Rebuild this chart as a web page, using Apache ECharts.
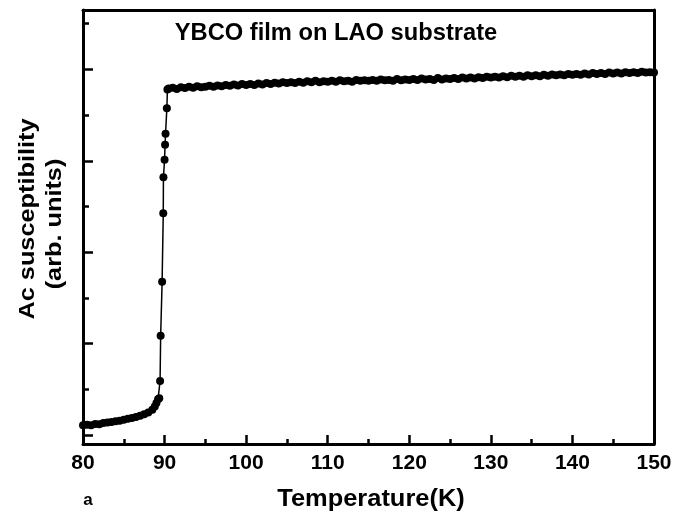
<!DOCTYPE html>
<html>
<head>
<meta charset="utf-8">
<script src="https://cdn.jsdelivr.net/npm/echarts@6/dist/echarts.min.js"></script>
<style>
html,body{margin:0;padding:0;background:#fff;}
#chart{width:690px;height:513px;}
</style>
</head>
<body>
<div id="chart"></div>
<script>
// ---- data (temperature in K, susceptibility in arbitrary units) ----
var lowTemps = [80,80.5,81,81.5,82,82.5,83,83.5,84,84.5,85,85.5,86,86.5,87,87.5,88,88.5,88.8,89.0,89.2];
var lowValues = [0.21,0.22,0.21,0.24,0.23,0.26,0.27,0.28,0.30,0.31,0.33,0.35,0.37,0.39,0.42,0.45,0.49,0.55,0.62,0.70,0.78];

var transTemps = [89.35,89.45,89.52,89.70,89.84,89.86,90.0,90.06,90.12,90.28,90.35];
var transValues = [0.80,1.18,2.17,3.35,4.85,5.64,6.02,6.35,6.59,7.15,7.56];

var plateauTemps = [
 90.5,91,91.5,92,92.5,93,93.5,94,94.5,95,
 95.5,96,96.5,97,97.5,98,98.5,99,99.5,100,
 100.5,101,101.5,102,102.5,103,103.5,104,104.5,105,
 105.5,106,106.5,107,107.5,108,108.5,109,109.5,110,
 110.5,111,111.5,112,112.5,113,113.5,114,114.5,115,
 115.5,116,116.5,117,117.5,118,118.5,119,119.5,120,
 120.5,121,121.5,122,122.5,123,123.5,124,124.5,125,
 125.5,126,126.5,127,127.5,128,128.5,129,129.5,130,
 130.5,131,131.5,132,132.5,133,133.5,134,134.5,135,
 135.5,136,136.5,137,137.5,138,138.5,139,139.5,140,
 140.5,141,141.5,142,142.5,143,143.5,144,144.5,145,
 145.5,146,146.5,147,147.5,148,148.5,149,149.5,150
];
var plateauValues = [
 7.58,7.60,7.57,7.61,7.59,7.62,7.60,7.63,7.61,7.62,
 7.64,7.62,7.65,7.63,7.66,7.64,7.67,7.65,7.68,7.66,
 7.68,7.66,7.69,7.67,7.70,7.68,7.71,7.69,7.72,7.70,
 7.72,7.70,7.73,7.71,7.74,7.72,7.75,7.72,7.74,7.73,
 7.75,7.73,7.76,7.74,7.75,7.73,7.77,7.75,7.76,7.75,
 7.77,7.75,7.78,7.76,7.77,7.75,7.79,7.76,7.78,7.77,
 7.79,7.77,7.80,7.78,7.79,7.77,7.81,7.78,7.80,7.79,
 7.81,7.79,7.82,7.80,7.82,7.80,7.83,7.81,7.84,7.82,
 7.84,7.82,7.85,7.83,7.86,7.84,7.86,7.84,7.87,7.85,
 7.87,7.85,7.88,7.86,7.89,7.87,7.89,7.87,7.90,7.88,
 7.90,7.88,7.91,7.89,7.92,7.90,7.92,7.90,7.93,7.91,
 7.93,7.91,7.94,7.92,7.94,7.92,7.95,7.93,7.94,7.93
];

var xTicks = [80,90,100,110,120,130,140,150];
var yMajorTicks = [0,2,4,6,8];
var yMinorTicks = [1,3,5,7,9];

var titleText = 'YBCO film on LAO substrate';
var xName = 'Temperature(K)';
var yName1 = 'Ac susceptibility';
var yName2 = '(arb. units)';
var panelLabel = 'a';

// ---- build ----
var temps = lowTemps.concat(transTemps, plateauTemps);
var vals = lowValues.concat(transValues, plateauValues);
var seriesData = temps.map(function(t, i){ return [t, vals[i]]; });

var FONT = '"Liberation Sans", Arial, sans-serif';
var chart = echarts.init(document.getElementById('chart'), null, {renderer:'canvas'});
var lineStyle = {color:'#000', width:3};

chart.setOption({
  animation:false,
  backgroundColor:'#fff',
  grid:{left:83, right:36, top:10, bottom:69, containLabel:false},
  xAxis:[{
    type:'value', min:80, max:150, interval:10, position:'bottom',
    axisLine:{show:true, onZero:false, lineStyle:lineStyle},
    axisTick:{show:true, inside:true, length:9, lineStyle:{color:'#000', width:2.5}},
    minorTick:{show:true, splitNumber:2, length:5, lineStyle:{color:'#000', width:2.5}},
    splitLine:{show:false},
    axisLabel:{show:true, margin:9, color:'#000', fontFamily:FONT, fontWeight:'bold', fontSize:21,
      customValues: xTicks}
  },{
    type:'value', min:80, max:150, position:'top',
    axisLine:{show:true, onZero:false, lineStyle:lineStyle},
    axisTick:{show:false}, axisLabel:{show:false}, splitLine:{show:false}
  }],
  yAxis:[{
    type:'value', min:-0.2, max:9.3, position:'left',
    axisLine:{show:true, onZero:false, lineStyle:lineStyle},
    axisTick:{show:true, inside:true, length:10, lineStyle:{color:'#000', width:2.5}, customValues:yMajorTicks},
    axisLabel:{show:false}, splitLine:{show:false}
  },{
    type:'value', min:-0.2, max:9.3, position:'left',
    axisLine:{show:false},
    axisTick:{show:true, inside:true, length:6, lineStyle:{color:'#000', width:2.5}, customValues:yMinorTicks},
    axisLabel:{show:false}, splitLine:{show:false}
  },{
    type:'value', min:-0.2, max:9.3, position:'right',
    axisLine:{show:true, onZero:false, lineStyle:lineStyle},
    axisTick:{show:false}, axisLabel:{show:false}, splitLine:{show:false}
  }],
  series:[{
    type:'line', xAxisIndex:0, yAxisIndex:0,
    data:seriesData,
    symbol:'circle', symbolSize:8, showSymbol:true, showAllSymbol:true,
    lineStyle:{color:'#000', width:1.5},
    itemStyle:{color:'#000'},
    clip:true
  }],
  graphic:[
    {type:'text', x:336, y:34, scaleX:1.03, style:{text:titleText, fill:'#000', font:'bold 23px '+FONT, textAlign:'center', textVerticalAlign:'middle'}},
    {type:'text', x:371, y:499, scaleX:1.06, style:{text:xName, fill:'#000', font:'bold 24px '+FONT, textAlign:'center', textVerticalAlign:'middle'}},
    {type:'text', x:88, y:500, style:{text:panelLabel, fill:'#000', font:'bold 17px '+FONT, textAlign:'center', textVerticalAlign:'middle'}},
    {type:'text', x:28, y:219, rotation:Math.PI/2, scaleX:1.15, style:{text:yName1, fill:'#000', font:'bold 22px '+FONT, textAlign:'center', textVerticalAlign:'middle'}},
    {type:'text', x:55, y:224, rotation:Math.PI/2, scaleX:1.15, style:{text:yName2, fill:'#000', font:'bold 22px '+FONT, textAlign:'center', textVerticalAlign:'middle'}}
  ]
});
</script>
</body>
</html>
